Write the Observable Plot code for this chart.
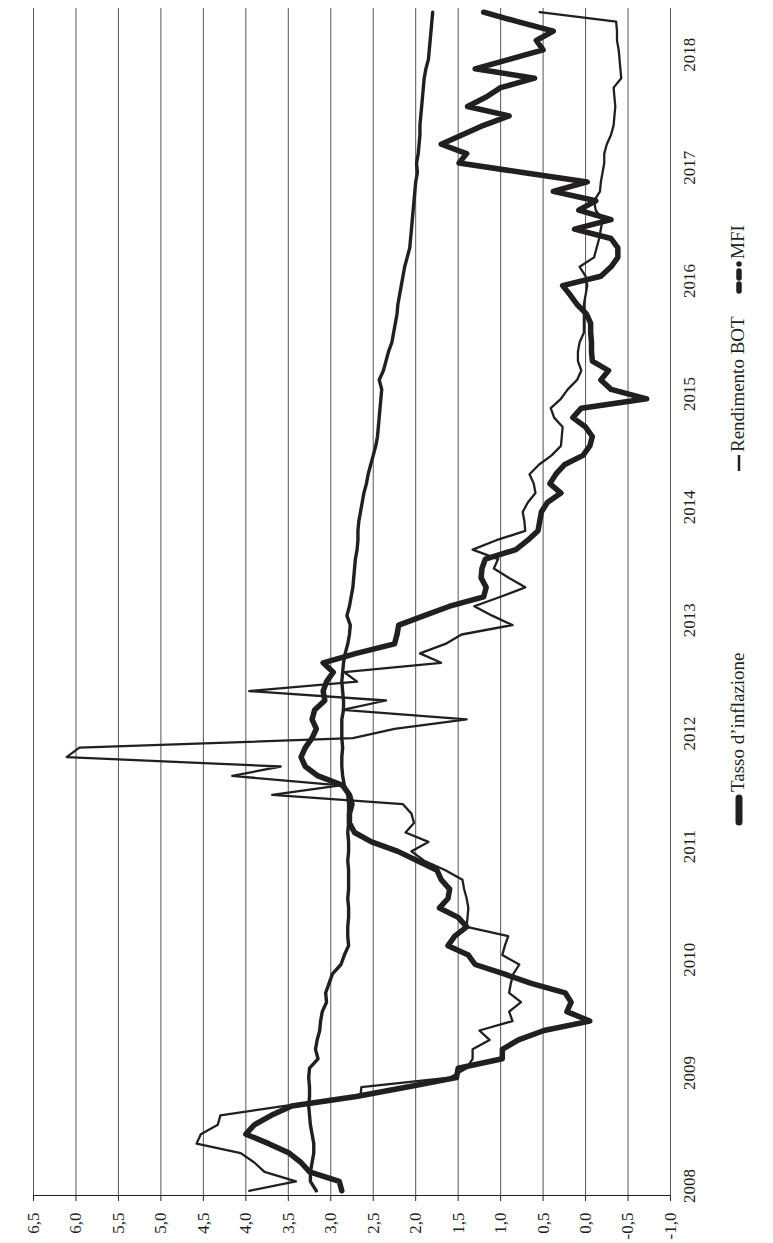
<!DOCTYPE html>
<html><head><meta charset="utf-8">
<script src="https://cdn.jsdelivr.net/npm/d3@7"></script>
<script src="https://cdn.jsdelivr.net/npm/@observablehq/plot@0.6"></script>
<style>
html,body{margin:0;padding:0;background:#fff;overflow:hidden;width:773px;height:1243px}
#fig{position:absolute;left:0;top:0;width:1243px;height:773px;transform-origin:0 0;transform:translate(0px,1243px) rotate(-90deg);font-family:"Liberation Serif","Times New Roman",serif;color:#231f20;background:#fff}
#legend{position:absolute;left:0;top:705px;width:1243px;height:68px}
.mk{position:absolute}
.lt{position:absolute;font-size:19px;line-height:20px;white-space:nowrap}
</style></head><body><div id="fig"><div id="chart"></div><div id="legend"></div></div>
<script>
// Years shown on the time axis (monthly data Jan 2008 – Jun 2018)
const years = [2008, 2009, 2010, 2011, 2012, 2013, 2014, 2015, 2016, 2017, 2018];
// Value axis ticks
const valueTicks = [6.5, 6.0, 5.5, 5.0, 4.5, 4.0, 3.5, 3.0, 2.5, 2.0, 1.5, 1.0, 0.5, 0.0, -0.5, -1.0];
const seriesNames = ["Tasso d\u2019inflazione", "Rendimento BOT", "MFI"];

const tasso = [2.87, 2.9, 3.25, 3.35, 3.49, 3.73, 4.0, 3.9, 3.7, 3.46,
 2.7, 2.1, 1.52, 1.5, 0.98, 0.98, 0.79, 0.49, -0.05, 0.22,
 0.17, 0.24, 0.64, 0.96, 1.3, 1.38, 1.62, 1.54, 1.4, 1.5,
 1.72, 1.62, 1.6, 1.7, 1.75, 1.98, 2.21, 2.52, 2.72, 2.78,
 2.78, 2.75, 2.78, 2.86, 3.15, 3.3, 3.35, 3.3, 3.22, 3.17,
 3.22, 3.19, 3.07, 3.09, 3.05, 2.97, 3.09, 2.7, 2.25, 2.22,
 2.2, 1.9, 1.6, 1.2, 1.17, 1.23, 1.22, 1.18, 0.82, 0.68,
 0.56, 0.54, 0.52, 0.45, 0.29, 0.42, 0.35, 0.25, 0.03, -0.05,
 -0.08, 0.0, 0.15, 0.05, -0.72, -0.3, -0.18, -0.27, -0.08, -0.07,
 -0.07, -0.06, -0.06, -0.01, 0.1, 0.18, 0.27, -0.18, -0.3, -0.38,
 -0.38, -0.3, 0.13, -0.3, 0.08, -0.12, 0.38, -0.02, 0.74, 1.49,
 1.4, 1.7, 1.45, 1.2, 0.9, 1.39, 1.17, 1.0, 0.6, 1.3,
 0.9, 0.5, 0.58, 0.38, 0.8, 1.2];

const bot = [3.96, 3.41, 3.78, 3.9, 4.06, 4.58, 4.53, 4.33, 4.3, 3.54,
 2.65, 2.64, 1.6, 1.4, 1.33, 1.33, 1.13, 1.25, 0.86, 0.9,
 0.76, 0.9, 0.88, 0.85, 0.78, 0.98, 0.95, 0.91, 1.4, 1.39,
 1.38, 1.4, 1.43, 1.45, 1.65, 1.9, 2.05, 1.85, 2.12, 2.02,
 2.05, 2.15, 3.69, 2.89, 4.16, 3.59, 6.11, 5.96, 2.74, 2.25,
 1.4, 2.86, 2.35, 3.96, 2.69, 2.84, 1.7, 1.95, 1.65, 1.46,
 0.86, 1.1, 1.31, 1.0, 0.71, 0.9, 1.08, 1.03, 1.33, 1.05,
 0.71, 0.72, 0.74, 0.68, 0.59, 0.61, 0.66, 0.55, 0.4, 0.29,
 0.28, 0.27, 0.37, 0.41, 0.29, 0.21, 0.1, 0.05, 0.09, 0.09,
 0.07, 0.02, 0.02, 0.02, 0.02, 0.0, -0.02, 0.0, 0.07, -0.1,
 -0.13, -0.16, -0.18, -0.2, -0.12, -0.1, -0.17, -0.18, -0.2, -0.22,
 -0.22, -0.25, -0.3, -0.33, -0.34, -0.35, -0.34, -0.33, -0.42, -0.41,
 -0.4, -0.39, -0.37, -0.37, -0.36, 0.54];

const mfi = [3.17, 3.24, 3.24, 3.22, 3.2, 3.2, 3.22, 3.24, 3.25, 3.26,
 3.25, 3.25, 3.26, 3.25, 3.15, 3.18, 3.16, 3.13, 3.12, 3.1,
 3.05, 3.06, 3.02, 2.98, 2.88, 2.84, 2.79, 2.8, 2.8, 2.79,
 2.79, 2.8, 2.79, 2.79, 2.79, 2.8, 2.79, 2.79, 2.8, 2.79,
 2.79, 2.79, 2.8, 2.84, 2.86, 2.87, 2.87, 2.86, 2.87, 2.87,
 2.87, 2.85, 2.85, 2.86, 2.87, 2.86, 2.85, 2.83, 2.8, 2.78,
 2.77, 2.81, 2.78, 2.76, 2.74, 2.73, 2.72, 2.71, 2.69, 2.68,
 2.68, 2.67, 2.65, 2.63, 2.61, 2.58, 2.56, 2.53, 2.5, 2.47,
 2.45, 2.44, 2.43, 2.42, 2.41, 2.4, 2.43, 2.38, 2.35, 2.32,
 2.28, 2.26, 2.24, 2.22, 2.21, 2.19, 2.17, 2.15, 2.13, 2.1,
 2.07, 2.06, 2.05, 2.04, 2.03, 2.02, 2.01, 2.0, 1.98, 1.99,
 1.97, 1.96, 1.95, 1.95, 1.94, 1.93, 1.92, 1.91, 1.9, 1.88,
 1.85, 1.84, 1.83, 1.82, 1.81, 1.8];

const ink = "#231f20";
const fmt = v => v.toFixed(1).replace(".", ",");
const yearTicks = years.map((y, k) => 12 * k + 0.5);
const toRows = arr => arr.map((v, i) => ({i, v}));

const chart = Plot.plot({
  width: 1243, height: 705,
  marginTop: 33, marginBottom: 35, marginLeft: 47, marginRight: 8,
  style: {fontFamily: '"Liberation Serif","Times New Roman",serif', fontSize: "17px", color: ink, background: "white"},
  x: {domain: [-0.5, 125.5]},
  y: {domain: [-1, 6.5]},
  marks: [
    Plot.ruleY(valueTicks, {stroke: "#555", strokeWidth: 1}),
    Plot.ruleX([-0.5], {stroke: ink, strokeWidth: 1.2}),
    Plot.axisY({ticks: valueTicks, tickSize: 5, tickPadding: 12, tickFormat: fmt, label: null, fontSize: 17}),
    Plot.axisX({ticks: yearTicks, tickSize: 0, tickPadding: 12, tickFormat: d => String(years[Math.round((d - 0.5) / 12)]), label: null, fontSize: 17}),
    Plot.line(toRows(tasso), {x: "i", y: "v", stroke: ink, strokeWidth: 5.5, strokeLinejoin: "round", strokeLinecap: "round"}),
    Plot.line(toRows(bot), {x: "i", y: "v", stroke: ink, strokeWidth: 2.3, strokeLinejoin: "round"}),
    Plot.line(toRows(mfi), {x: "i", y: "v", stroke: ink, strokeWidth: 3.4, strokeLinejoin: "round", strokeLinecap: "round"})
  ]
});
document.getElementById("chart").appendChild(chart);

// Legend (below the plot in the landscape frame, i.e. right of it once rotated)
const legend = document.getElementById("legend");
const NS = "http://www.w3.org/2000/svg";
function marker(left, w, build) {
  const s = document.createElementNS(NS, "svg");
  s.setAttribute("width", w); s.setAttribute("height", 20);
  s.setAttribute("class", "mk");
  s.style.left = left + "px"; s.style.top = "24px";
  build(s);
  legend.appendChild(s);
}
function seg(s, x1, x2, sw, cap) {
  const l = document.createElementNS(NS, "line");
  l.setAttribute("x1", x1); l.setAttribute("x2", x2);
  l.setAttribute("y1", 10); l.setAttribute("y2", 10);
  l.setAttribute("stroke", ink); l.setAttribute("stroke-width", sw);
  l.setAttribute("stroke-linecap", cap);
  s.appendChild(l);
}
function label(left, text) {
  const d = document.createElement("div");
  d.className = "lt"; d.style.left = left + "px"; d.style.top = "23px";
  d.textContent = text; legend.appendChild(d);
}
marker(417, 32, s => seg(s, 4, 28, 7, "round"));
label(451, seriesNames[0]);
marker(771, 18, s => seg(s, 1, 17, 2.5, "butt"));
label(791, seriesNames[1]);
marker(948, 36, s => { seg(s, 4, 11, 5.5, "round"); seg(s, 17, 24, 5.5, "round"); seg(s, 31, 31.01, 5.5, "round"); });
label(984, seriesNames[2]);
</script></body></html>
